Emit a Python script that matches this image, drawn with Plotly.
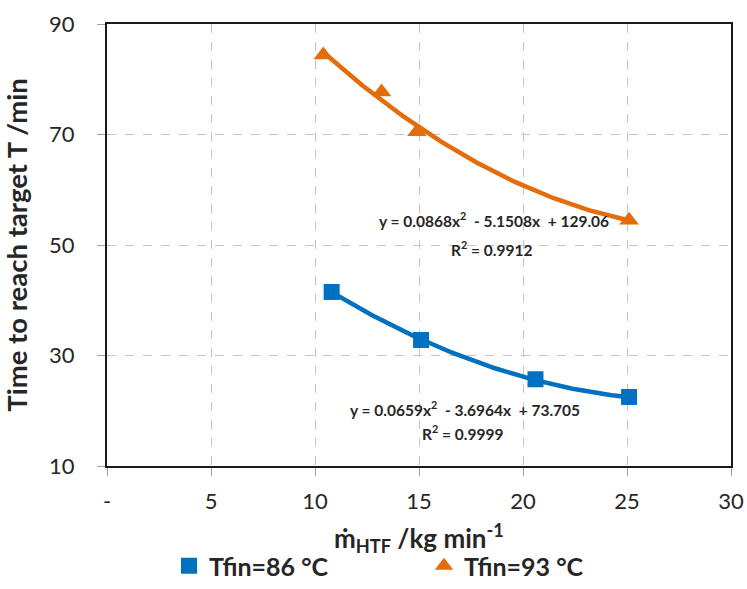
import numpy as np
import plotly.graph_objects as go

# Measured points: mass flow of HTF (kg/min) vs time to reach target T (min)
x_86 = [10.8, 15.1, 20.6, 25.1]
y_86 = [41.5, 32.8, 25.7, 22.5]
x_93 = [10.4, 13.2, 14.9, 25.1]
y_93 = [84.4, 77.7, 70.5, 54.5]

# Quadratic trendline coefficients (a, b, c) for y = a x^2 + b x + c, and R^2
fit_86 = [0.0659, -3.6964, 73.705]
r2_86 = 0.9999
fit_93 = [0.0868, -5.1508, 129.06]
r2_93 = 0.9912

x_ticks = [0, 5, 10, 15, 20, 25, 30]
x_tick_text = ["-", "5", "10", "15", "20", "25", "30"]
y_ticks = [10, 30, 50, 70, 90]

BLUE = "#0070C0"
ORANGE = "#E46C0A"
TEXT = "#262626"
FONT = "Lato, 'Open Sans', sans-serif"

W, H = 747, 589
M_L, M_R, M_T, M_B = 107, 16, 24, 123
PLOT_H = H - M_T - M_B


def below_plot(px):
    """Paper y-coordinate for a pixel row below the plotting area."""
    return -(px - (H - M_B)) / PLOT_H


def trend(coef, xs):
    xx = np.linspace(min(xs), max(xs), 120)
    return xx, np.polyval(coef, xx)


def eq_text(coef):
    a, b, c = coef
    return f"y = {a:.4f}x<sup>2</sup>  - {abs(b):.4f}x  + {c:g}"


fig = go.Figure()

for xs, coef, col in [(x_86, fit_86, BLUE), (x_93, fit_93, ORANGE)]:
    tx, ty = trend(coef, xs)
    fig.add_trace(go.Scatter(x=tx, y=ty, mode="lines", showlegend=False,
                             line=dict(color=col, width=4.5), hoverinfo="skip"))

fig.add_trace(go.Scatter(x=x_86, y=y_86, mode="markers", name="Tfin=86 °C",
                         marker=dict(symbol="square", size=16, color=BLUE)))
fig.add_trace(go.Scatter(x=x_93, y=y_93, mode="markers", name="Tfin=93 °C",
                         marker=dict(symbol="triangle-up", size=17, color=ORANGE)))

eq_font = dict(family=FONT, size=15.5, color=TEXT, weight="bold")
fig.add_annotation(x=18.6, y=54.7, xref="x", yref="y", text=eq_text(fit_93),
                   showarrow=False, font=eq_font)
fig.add_annotation(x=18.5, y=49.4, xref="x", yref="y",
                   text=f"R<sup>2</sup> = {r2_93}", showarrow=False, font=eq_font)
fig.add_annotation(x=17.2, y=20.4, xref="x", yref="y", text=eq_text(fit_86),
                   showarrow=False, font=eq_font)
fig.add_annotation(x=17.1, y=16.1, xref="x", yref="y",
                   text=f"R<sup>2</sup> = {r2_86}", showarrow=False, font=eq_font)

# x-axis title, placed below the tick labels
fig.add_annotation(x=0.5, xref="paper", y=below_plot(538), yref="paper",
                   yanchor="middle", showarrow=False,
                   text="ṁ<sub>HTF</sub> /kg min<sup>-1</sup>",
                   font=dict(family=FONT, size=26, weight="bold", color=TEXT))

axis_common = dict(
    showline=True, mirror=True, linecolor="#1a1a1a", linewidth=2,
    showgrid=True, gridcolor="#C4C4C4", griddash="dash", gridwidth=1,
    ticks="outside", ticklen=8, tickcolor="#A0A0A0", tickwidth=1.2,
    zeroline=False, automargin=False,
    tickfont=dict(family=FONT, size=22, color=TEXT),
)

fig.update_layout(
    width=W, height=H,
    margin=dict(l=M_L, r=M_R, t=M_T, b=M_B),
    paper_bgcolor="white", plot_bgcolor="white",
    font=dict(family=FONT, color=TEXT),
    xaxis=dict(range=[0, 30], tickvals=x_ticks, ticktext=x_tick_text,
               ticklabelstandoff=7, **axis_common),
    yaxis=dict(range=[10, 90], tickvals=y_ticks, ticklabelstandoff=18,
               title=dict(text="Time to reach target T /min",
                          font=dict(family=FONT, size=27.5, weight="bold"),
                          standoff=13),
               **axis_common),
    legend=dict(orientation="h", xref="container", yref="container",
                x=169 / W, xanchor="left", y=0, yanchor="bottom",
                font=dict(family=FONT, size=25, weight="bold", color=TEXT),
                entrywidth=210, itemwidth=30, bgcolor="rgba(0,0,0,0)"),
    showlegend=True,
)

fig.write_html("out.html")
